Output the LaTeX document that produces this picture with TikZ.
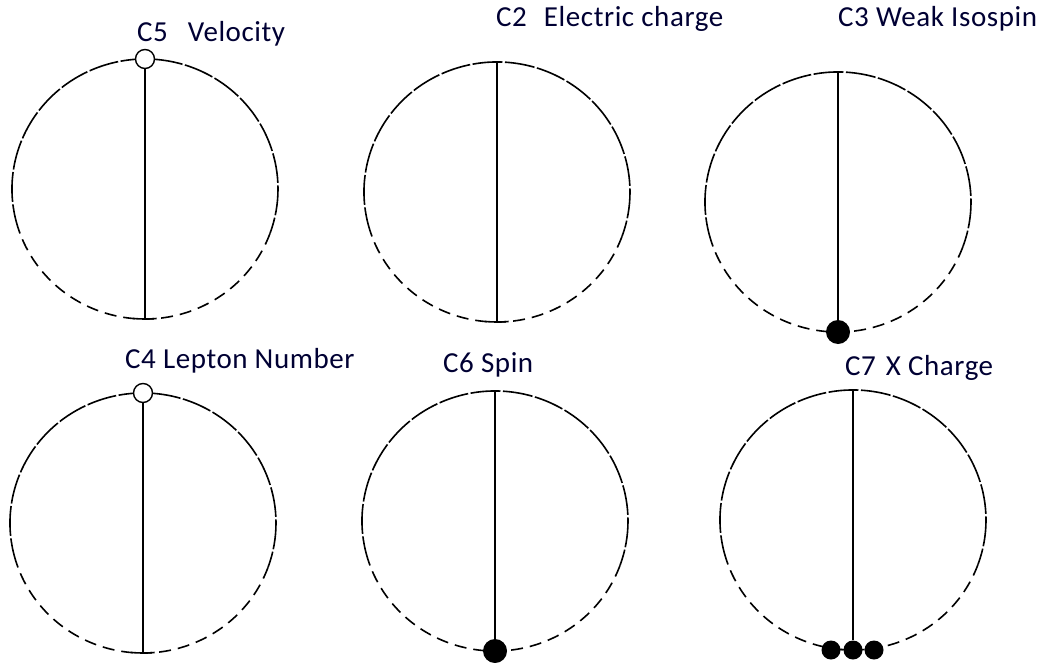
\documentclass[tikz,border=0pt]{standalone}
\usepackage{fontspec}
\setmainfont{Carlito}[LetterSpace=2]
\usetikzlibrary{calc}

\begin{document}
\begin{tikzpicture}[x=1pt,y=-1pt,line join=round,
    rim/.style={line width=1.6pt,dash pattern=on 30pt off 2.5pt},
    rimlow/.style={line width=1.6pt,dash pattern=on 12pt off 7pt},
    rimbar/.style={line width=1.6pt},
    stem/.style={line width=2pt},
    hollow/.style={circle,draw,line width=1.4pt,fill=white,minimum size=19pt,inner sep=0pt},
    bead/.style={circle,fill=black,minimum size=24pt,inner sep=0pt},
    smallbead/.style={circle,fill=black,minimum size=19pt,inner sep=0pt},
    title/.style={anchor=base west,inner sep=0pt,font=\fontsize{29}{32}\selectfont,text=black!80!blue}]
    \useasboundingbox (0,0) rectangle (1048,663);
    % centres of the six circles
    \coordinate (cV) at (145,189);
    \coordinate (cE) at (497,192);
    \coordinate (cW) at (838,202);
    \coordinate (cL) at (143,523);
    \coordinate (cS) at (495,521);
    \coordinate (cX) at (853,520);
    \foreach \c in {cV,cE,cW,cL,cS,cX}{
      \draw[rim] (\c) ++(160:133 and 130) arc[start angle=160,end angle=380,x radius=133,y radius=130];
      \draw[rimlow] (\c) ++(20:133 and 130) arc[start angle=20,end angle=160,x radius=133,y radius=130];
      \draw[rimbar] (\c) ++(85:133 and 130) arc[start angle=85,end angle=95,x radius=133,y radius=130];
      \coordinate (t\c) at ($(\c)+(0,-130)$);
      \coordinate (b\c) at ($(\c)+(0,130)$);
    }
    % titles
    \node[title] (nV) at (137,42) {C5\hspace{20pt}Velocity};
    \node[title] (nE) at (496,27) {C2\hspace{17pt}Electric charge};
    \node[title] (nW) at (838,27) {C3 Weak Isospin};
    \node[title] (nL) at (125,368) {C4 Lepton Number};
    \node[title] (nS) at (443,372) {C6 Spin};
    \node[title] (nX) at (845,375) {C7\hspace{10pt}X Charge};
    % velocity and lepton number: open ring on top
    \node[hollow] (oV) at (tcV) {};
    \draw[stem] (oV) -- (bcV);
    \node[hollow] (oL) at (tcL) {};
    \draw[stem] (oL) -- (bcL);
    % electric charge
    \draw[stem] (tcE) -- (bcE);
    % weak isospin and spin: one bead at the bottom
    \node[bead] (dW) at (bcW) {};
    \draw[stem] (tcW) -- (dW);
    \node[bead] (dS) at (bcS) {};
    \draw[stem] (tcS) -- (dS);
    % x charge: three beads
    \node[smallbead] (dX) at (bcX) {};
    \node[smallbead] (dXl) at ($(bcX)+(-22,0)$) {};
    \node[smallbead] (dXr) at ($(bcX)+(21,0)$) {};
    \draw[stem] (tcX) -- (dX);
\end{tikzpicture}
\end{document}
